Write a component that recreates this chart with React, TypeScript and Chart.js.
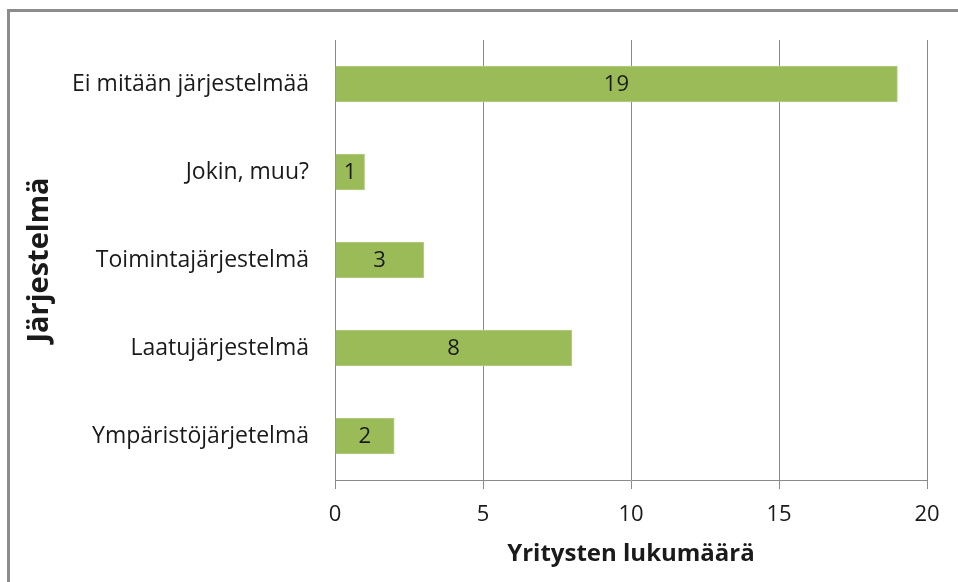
import React, { useEffect, useRef } from "react";
import { Chart, registerables } from "chart.js";

Chart.register(...registerables);

const categories = [
  "Ei mitään järjestelmää",
  "Jokin, muu?",
  "Toimintajärjestelmä",
  "Laatujärjestelmä",
  "Ympäristöjärjetelmä",
];
const values = [19, 1, 3, 8, 2];
const xTicks = [0, 5, 10, 15, 20];
const xTitle = "Yritysten lukumäärä";
const yTitle = "Järjestelmä";

const FONT = "'Open Sans', 'Noto Sans', sans-serif";

const labelPlugin = {
  id: "barLabels",
  afterDatasetsDraw(chart: any) {
    const ctx = chart.ctx;
    const meta = chart.getDatasetMeta(0);
    ctx.save();
    ctx.font = `22px ${FONT}`;
    ctx.fillStyle = "#1a1a1a";
    ctx.textAlign = "center";
    ctx.textBaseline = "middle";
    meta.data.forEach((bar: any, i: number) => {
      const x = (bar.x + bar.base) / 2;
      ctx.fillText(String(values[i]), x, bar.y + 1);
    });
    ctx.restore();
  },
};

export default function App() {
  const ref = useRef<HTMLCanvasElement>(null);
  useEffect(() => {
    if (!ref.current) return;
    const chart = new Chart(ref.current, {
      type: "bar",
      data: {
        labels: categories,
        datasets: [
          {
            data: values,
            backgroundColor: "#9bbb59",
            borderColor: "#b5cf86",
            borderWidth: 1,
            borderSkipped: "start",
            barThickness: 36,
          },
        ],
      },
      options: {
        indexAxis: "y",
        animation: false,
        responsive: false,
        maintainAspectRatio: false,
        layout: { padding: { top: 40, right: 31, left: 0, bottom: 0 } },
        plugins: {
          legend: { display: false },
          tooltip: { enabled: false },
        },
        scales: {
          x: {
            min: 0,
            max: 20,
            afterFit(scale: any) {
              scale.height = 102;
            },
            afterBuildTicks(scale: any) {
              scale.ticks = xTicks.map((v) => ({ value: v }));
            },
            ticks: {
              color: "#1a1a1a",
              font: { family: FONT, size: 22 },
              padding: 13,
            },
            grid: {
              color: "#8a8a8a",
              lineWidth: 1,
              drawTicks: true,
              tickLength: 9,
              tickColor: "#8a8a8a",
            },
            border: { display: true, color: "#8a8a8a", width: 1 },
            title: {
              display: true,
              text: xTitle,
              color: "#1a1a1a",
              font: { family: FONT, size: 24, weight: "bold" },
              padding: { top: 0, bottom: 13 },
            },
          },
          y: {
            afterFit(scale: any) {
              scale.width = 335;
            },
            ticks: {
              color: "#1a1a1a",
              font: { family: FONT, size: 23 },
              padding: 26,
            },
            grid: { display: false, drawTicks: false },
            border: { display: true, color: "#8a8a8a", width: 1 },
            title: {
              display: true,
              text: yTitle,
              color: "#1a1a1a",
              font: { family: FONT, size: 29, weight: "bold" },
              padding: { top: 22, bottom: 0 },
            },
          },
        },
      },
      plugins: [labelPlugin],
    });
    return () => chart.destroy();
  }, []);

  return (
    <div
      style={{
        position: "fixed",
        left: 0,
        top: 0,
        width: 958,
        height: 582,
        overflow: "hidden",
        background: "#fff",
      }}
    >
      <div
        style={{
          position: "absolute",
          left: 7,
          top: 9,
          width: 1100,
          height: 1100,
          borderLeft: "3px solid #8c8c8c",
          borderTop: "3px solid #8c8c8c",
        }}
      />
      <canvas
        ref={ref}
        width={958}
        height={582}
        style={{ position: "absolute", left: 0, top: 0, display: "block" }}
      />
    </div>
  );
}
